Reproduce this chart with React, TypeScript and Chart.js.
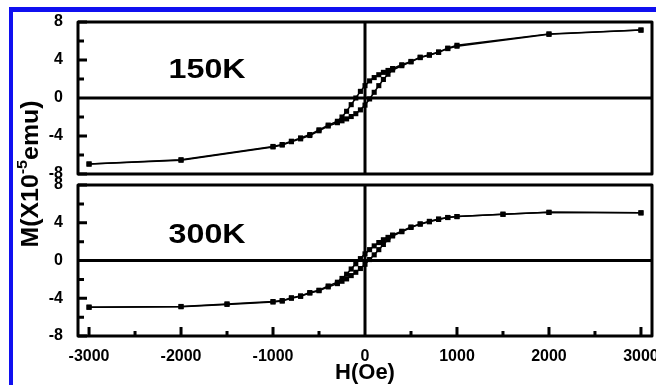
import React, { useEffect, useRef } from "react";
import { Chart, registerables } from "chart.js";

Chart.register(...registerables);

const FONT = "'Liberation Sans', Arial, Helvetica, sans-serif";

// Axes
const X_MIN = -3120;
const X_MAX = 3120;
const X_TICKS = [-3000, -2000, -1000, 0, 1000, 2000, 3000];
const X_MINOR = [-2500, -1500, -500, 500, 1500, 2500];
const Y_MIN = -8;
const Y_MAX = 8;
const Y_TICKS = [-8, -4, 0, 4, 8];
const Y_MINOR = [-6, -2, 2, 6];

const X_TITLE = "H(Oe)";
const Y_TITLE_MAIN = "M(X10";
const Y_TITLE_SUP = "-5";
const Y_TITLE_END = "emu)";

// 150 K loop: descending branch (field from +3000 to -3000)
const H_150_DOWN = [3000, 2000, 1000, 900, 800, 700, 600, 500, 400, 300, 250, 200, 150, 100, 50, 0, -50, -100, -150, -200, -250, -300, -400, -500, -600, -700, -800, -900, -1000, -2000, -3000];
const M_150_DOWN = [7.15, 6.75, 5.55, 5.25, 4.85, 4.55, 4.3, 3.85, 3.5, 3.1, 2.9, 2.7, 2.45, 2.15, 1.8, 1.3, 0.7, 0.0, -0.7, -1.4, -2.0, -2.45, -2.85, -3.35, -3.85, -4.2, -4.55, -4.9, -5.1, -6.5, -6.95];
// 150 K loop: ascending branch (field from -3000 to +3000)
const H_150_UP = [-3000, -2000, -1000, -900, -800, -700, -600, -500, -400, -300, -250, -200, -150, -100, -50, 0, 50, 100, 150, 200, 250, 300, 400, 500, 600, 700, 800, 900, 1000, 2000, 3000];
const M_150_UP = [-6.95, -6.55, -5.15, -4.95, -4.6, -4.3, -3.95, -3.45, -2.95, -2.6, -2.4, -2.2, -1.95, -1.65, -1.25, -0.75, -0.1, 0.6, 1.3, 1.95, 2.5, 2.95, 3.4, 3.8, 4.25, 4.5, 4.8, 5.2, 5.45, 6.7, 7.15];

// 300 K loop: descending branch
const H_300_DOWN = [3000, 2000, 1500, 1000, 900, 800, 700, 600, 500, 400, 300, 250, 200, 150, 100, 50, 0, -50, -100, -150, -200, -250, -300, -400, -500, -600, -700, -800, -900, -1000, -1500, -2000, -3000];
const M_300_DOWN = [5.05, 5.1, 4.9, 4.66, 4.56, 4.4, 4.15, 3.88, 3.55, 3.1, 2.7, 2.45, 2.2, 1.9, 1.55, 1.15, 0.7, 0.2, -0.35, -0.9, -1.45, -1.9, -2.3, -2.7, -3.15, -3.4, -3.75, -3.95, -4.25, -4.35, -4.6, -4.87, -4.95];
// 300 K loop: ascending branch
const H_300_UP = [-3000, -2000, -1500, -1000, -900, -800, -700, -600, -500, -400, -300, -250, -200, -150, -100, -50, 0, 50, 100, 150, 200, 250, 300, 400, 500, 600, 700, 800, 900, 1000, 1500, 2000, 3000];
const M_300_UP = [-4.95, -4.9, -4.65, -4.4, -4.3, -4.0, -3.8, -3.45, -3.2, -2.8, -2.45, -2.2, -1.95, -1.6, -1.25, -0.85, -0.4, 0.1, 0.6, 1.15, 1.7, 2.2, 2.6, 3.05, 3.5, 3.85, 4.1, 4.35, 4.55, 4.65, 4.9, 5.1, 5.05];

const LABEL_150 = "150K";
const LABEL_300 = "300K";
// label anchor in data units (H, M) — baseline-centre of the text
const LABEL_150_AT = [-1717, 2.1];
const LABEL_300_AT = [-1717, 1.9];

type PanelOpts = {
  hDown: number[];
  mDown: number[];
  hUp: number[];
  mUp: number[];
  label: string;
  labelAt: number[];
  padTop: number;
  padBottom: number;
  showX: boolean;
  drawTitles: boolean;
};

function toXY(h: number[], m: number[]) {
  return h.map((v, i) => ({ x: v, y: m[i] }));
}

function makePanel(canvas: HTMLCanvasElement, o: PanelOpts) {
  const ds = (data: { x: number; y: number }[]) => ({
    data,
    showLine: true,
    borderColor: "#000",
    backgroundColor: "#000",
    borderWidth: 1.5,
    pointStyle: "rect" as const,
    pointRadius: 3.6,
    pointBorderWidth: 0,
    pointBackgroundColor: "#000",
  });

  const panelPlugin = {
    id: "panelDecor",
    afterDatasetsDraw(chart: any) {
      const { ctx, chartArea: a } = chart;
      const xs = chart.scales.x;
      const ys = chart.scales.y;
      ctx.save();
      ctx.strokeStyle = "#000";
      ctx.lineWidth = 3;
      ctx.lineCap = "butt";
      const x0 = xs.getPixelForValue(0);
      const y0 = ys.getPixelForValue(0);
      ctx.beginPath();
      ctx.moveTo(a.left, y0);
      ctx.lineTo(a.right, y0);
      ctx.moveTo(x0, a.top);
      ctx.lineTo(x0, a.bottom);
      Y_TICKS.forEach((v) => {
        const y = ys.getPixelForValue(v);
        ctx.moveTo(a.left, y);
        ctx.lineTo(a.left + 9, y);
      });
      Y_MINOR.forEach((v) => {
        const y = ys.getPixelForValue(v);
        ctx.moveTo(a.left, y);
        ctx.lineTo(a.left + 6, y);
      });
      if (o.showX) {
        X_TICKS.forEach((v) => {
          const x = xs.getPixelForValue(v);
          ctx.moveTo(x, a.bottom);
          ctx.lineTo(x, a.bottom - 9);
        });
        X_MINOR.forEach((v) => {
          const x = xs.getPixelForValue(v);
          ctx.moveTo(x, a.bottom);
          ctx.lineTo(x, a.bottom - 5);
        });
      }
      ctx.stroke();
      ctx.lineJoin = "round";
      ctx.strokeRect(a.left, a.top, a.right - a.left, a.bottom - a.top);

      ctx.fillStyle = "#000";
      ctx.font = `bold 28px ${FONT}`;
      ctx.textAlign = "center";
      ctx.textBaseline = "alphabetic";
      const lx = xs.getPixelForValue(o.labelAt[0]);
      const ly = ys.getPixelForValue(o.labelAt[1]);
      ctx.translate(lx, ly);
      ctx.scale(1.15, 1);
      ctx.fillText(o.label, 0, 0);
      ctx.restore();
    },
    afterDraw(chart: any) {
      if (!o.drawTitles) return;
      const { ctx } = chart;
      const xs = chart.scales.x;
      ctx.save();
      ctx.fillStyle = "#000";
      // x title
      ctx.font = `bold 22px ${FONT}`;
      ctx.textAlign = "center";
      ctx.textBaseline = "alphabetic";
      ctx.fillText(X_TITLE, xs.getPixelForValue(0), 379);
      // y title (rotated, with superscript)
      const big = `bold 23px ${FONT}`;
      const small = `bold 15px ${FONT}`;
      ctx.font = big;
      const w1 = ctx.measureText(Y_TITLE_MAIN).width;
      const w3 = ctx.measureText(Y_TITLE_END).width;
      ctx.font = small;
      const w2 = ctx.measureText(Y_TITLE_SUP).width;
      const total = w1 + w2 + w3;
      ctx.translate(38, 174);
      ctx.rotate(-Math.PI / 2);
      ctx.scale(1.08, 1);
      ctx.textAlign = "left";
      let x = -total / 2;
      ctx.font = big;
      ctx.fillText(Y_TITLE_MAIN, x, 0);
      x += w1;
      ctx.font = small;
      ctx.fillText(Y_TITLE_SUP, x, -11);
      x += w2;
      ctx.font = big;
      ctx.fillText(Y_TITLE_END, x, 0);
      ctx.restore();
    },
  };

  return new Chart(canvas, {
    type: "scatter",
    data: {
      datasets: [ds(toXY(o.hDown, o.mDown)), ds(toXY(o.hUp, o.mUp))] as any,
    },
    options: {
      responsive: false,
      animation: false,
      events: [],
      layout: { padding: { top: o.padTop, bottom: o.padBottom, left: 0, right: 4 } },
      plugins: { legend: { display: false }, tooltip: { enabled: false } },
      scales: {
        x: {
          type: "linear",
          min: X_MIN,
          max: X_MAX,
          display: o.showX,
          grid: { display: false },
          border: { display: false },
          afterBuildTicks: (s: any) => {
            s.ticks = X_TICKS.map((v) => ({ value: v }));
          },
          afterFit: (s: any) => {
            if (o.showX) s.height = 49;
            s.paddingLeft = 0;
            s.paddingRight = 0;
          },
          ticks: {
            color: "#000",
            font: { family: FONT, weight: "bold", size: 16 },
            padding: 3,
            maxRotation: 0,
            autoSkip: false,
            callback: (v: any) => String(v),
          },
        },
        y: {
          type: "linear",
          min: Y_MIN,
          max: Y_MAX,
          grid: { display: false },
          border: { display: false },
          afterBuildTicks: (s: any) => {
            s.ticks = Y_TICKS.map((v) => ({ value: v }));
          },
          afterFit: (s: any) => {
            s.width = 78;
            s.paddingTop = 0;
            s.paddingBottom = 0;
          },
          ticks: {
            color: "#000",
            font: { family: FONT, weight: "bold", size: 16 },
            padding: 7,
            callback: (v: any) => String(v),
          },
        },
      },
    } as any,
    plugins: [panelPlugin],
  });
}

export default function App() {
  const topRef = useRef<HTMLCanvasElement>(null);
  const botRef = useRef<HTMLCanvasElement>(null);

  useEffect(() => {
    const c1 = makePanel(topRef.current!, {
      hDown: H_150_DOWN,
      mDown: M_150_DOWN,
      hUp: H_150_UP,
      mUp: M_150_UP,
      label: LABEL_150,
      labelAt: LABEL_150_AT,
      padTop: 22,
      padBottom: 385 - 174,
      showX: false,
      drawTitles: false,
    });
    const c2 = makePanel(botRef.current!, {
      hDown: H_300_DOWN,
      mDown: M_300_DOWN,
      hUp: H_300_UP,
      mUp: M_300_UP,
      label: LABEL_300,
      labelAt: LABEL_300_AT,
      padTop: 185,
      padBottom: 0,
      showX: true,
      drawTitles: true,
    });
    return () => {
      c1.destroy();
      c2.destroy();
    };
  }, []);

  return (
    <div style={{ position: "absolute", left: 0, top: 0, width: 656, height: 385, background: "#fff", overflow: "hidden" }}>
      <div style={{ position: "absolute", left: 9, top: 7, width: 647, height: 5, background: "#1010f0" }} />
      <div style={{ position: "absolute", left: 9, top: 7, width: 4, height: 378, background: "#1010f0" }} />
      <canvas ref={botRef} width={656} height={385} style={{ position: "absolute", left: 0, top: 0 }} />
      <canvas ref={topRef} width={656} height={385} style={{ position: "absolute", left: 0, top: 0 }} />
    </div>
  );
}
